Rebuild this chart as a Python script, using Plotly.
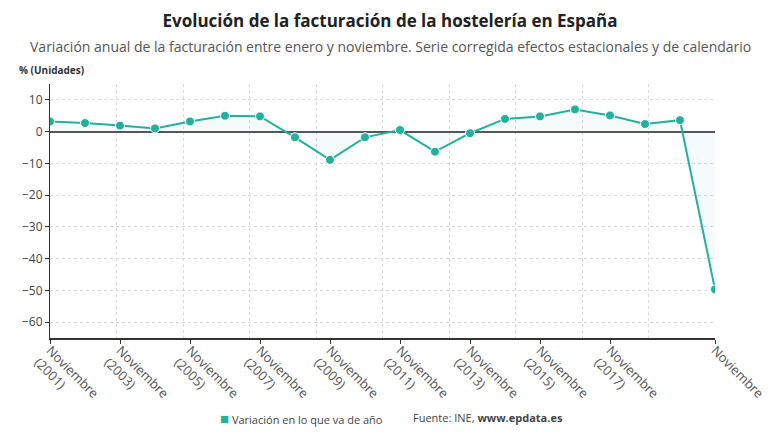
import plotly.graph_objects as go

years = list(range(2001, 2021))
values = [3.2, 2.7, 1.9, 1.0, 3.2, 5.0, 4.8, -1.8, -8.9, -1.8,
          0.5, -6.3, -0.5, 4.0, 4.8, 7.0, 5.1, 2.4, 3.6, -49.7]
tick_years = [2001, 2003, 2005, 2007, 2009, 2011, 2013, 2015, 2017, 2020]
tick_labels = ["Noviembre<br>(2001)", "Noviembre<br>(2003)", "Noviembre<br>(2005)",
               "Noviembre<br>(2007)", "Noviembre<br>(2009)", "Noviembre<br>(2011)",
               "Noviembre<br>(2013)", "Noviembre<br>(2015)", "Noviembre<br>(2017)",
               "Noviembre"]
series_name = "Variación en lo que va de año"

TEAL = "#24b09f"
FONT = "Open Sans"

fig = go.Figure()
fig.add_trace(go.Scatter(
    x=years, y=values, mode="lines+markers",
    line=dict(color=TEAL, width=2),
    marker=dict(color=TEAL, size=9, line=dict(color="white", width=1)),
    fill="tozeroy", fillcolor="rgba(36,176,159,0.05)",
    showlegend=False, name=series_name,
))
# overlay axis used only for the vertical grid (10 equal divisions)
fig.add_trace(go.Scatter(x=[years[0], years[-1]], y=[None, None], xaxis="x2",
                         showlegend=False, hoverinfo="skip"))

fig.update_layout(
    width=780, height=440,
    paper_bgcolor="white", plot_bgcolor="white",
    margin=dict(l=50, r=65, t=84, b=102),
    font=dict(family=FONT, color="#444", size=12),
    showlegend=False,
    title=dict(text="<b>Evolución de la facturación de la hostelería en España</b>",
               x=0.5, xanchor="center", y=1 - 21 / 440, yanchor="middle",
               font=dict(family=FONT, size=17, color="#222")),
    xaxis=dict(range=[2001, 2020], tickvals=tick_years, ticktext=tick_labels,
               tickangle=45, showgrid=False, zeroline=False,
               showline=True, linecolor="#333", linewidth=1.5,
               ticks="outside", ticklen=4, tickcolor="#333",
               ticklabelstandoff=-6,
               tickfont=dict(size=13, color="#555")),
    xaxis2=dict(range=[2001, 2020], overlaying="x", tick0=2001, dtick=1.9,
                showgrid=True, gridcolor="#d9d9e0", griddash="dot", gridwidth=1,
                showticklabels=False, ticks="", zeroline=False, showline=False),
    yaxis=dict(range=[-65, 15], tickvals=[10, 0, -10, -20, -30, -40, -50, -60],
               showgrid=True, gridcolor="#d9d9e0", griddash="dot", gridwidth=1,
               zeroline=True, zerolinecolor="#555", zerolinewidth=2,
               showline=True, linecolor="#333", linewidth=1,
               ticks="outside", ticklen=4, tickcolor="#333",
               tickfont=dict(size=12, color="#444")),
    annotations=[
        dict(text="Variación anual de la facturación entre enero y noviembre. Serie corregida efectos estacionales y de calendario",
             xref="paper", yref="paper", x=(390 - 50) / 665, y=(338 - 46) / 254,
             xanchor="center", yanchor="middle", showarrow=False,
             font=dict(size=14, color="#555")),
        dict(text="<b>% (Unidades)</b>", xref="paper", yref="paper",
             x=(17 - 50) / 665, y=(338 - 70) / 254, xanchor="left", yanchor="middle",
             showarrow=False, font=dict(size=10, color="#333")),
        dict(text=f"<span style='color:{TEAL};font-size:15px'>■</span> {series_name}",
             xref="paper", yref="paper",
             x=(218 - 50) / 665, y=(338 - 418) / 254, xanchor="left", yanchor="middle",
             showarrow=False, font=dict(size=11, color="#444")),
        dict(text="Fuente: INE, <b>www.epdata.es</b>", xref="paper", yref="paper",
             x=(411 - 50) / 665, y=(338 - 418) / 254, xanchor="left", yanchor="middle",
             showarrow=False, font=dict(size=11, color="#444")),
    ],
)

fig.write_html("out.html")
